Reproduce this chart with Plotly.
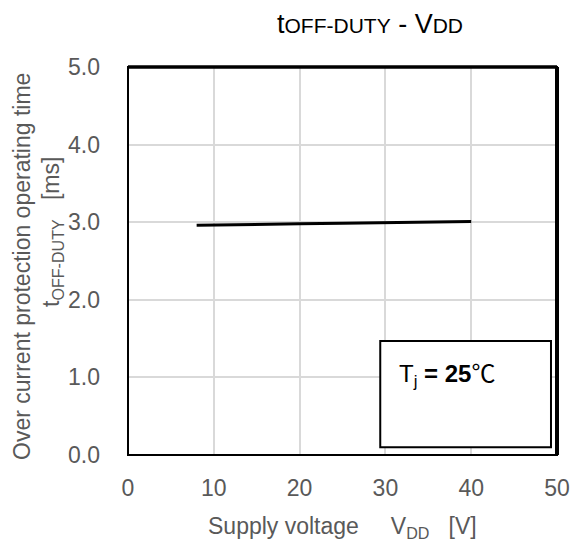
import plotly.graph_objects as go

# data
vdd = [8, 10, 15, 20, 25, 30, 35, 40]
t_off = [2.96, 2.965, 2.972, 2.98, 2.988, 2.995, 3.002, 3.01]
x_ticks = [0, 10, 20, 30, 40, 50]
y_ticks = [0, 1, 2, 3, 4, 5]
y_ticklabels = ["0.0", "1.0", "2.0", "3.0", "4.0", "5.0"]

FONT = "Liberation Sans, Arial, sans-serif"
GRAY = "#595959"

fig = go.Figure()
fig.add_trace(go.Scatter(x=vdd, y=t_off, mode="lines",
                         line=dict(color="black", width=3), showlegend=False,
                         hoverinfo="x+y"))

fig.update_layout(
    width=574, height=544,
    margin=dict(l=128, r=17, t=67, b=89),
    paper_bgcolor="white", plot_bgcolor="white",
    font=dict(family=FONT, size=23, color=GRAY),
    showlegend=False,
    xaxis=dict(range=[0, 50], tickvals=x_ticks, ticktext=[str(v) for v in x_ticks],
               showgrid=True, gridcolor="#d9d9d9", gridwidth=1.5,
               zeroline=False, showline=False, ticks="", automargin=False,
               ticklabelstandoff=17,
               tickfont=dict(family=FONT, size=23, color=GRAY)),
    yaxis=dict(range=[0, 5], tickvals=y_ticks, ticktext=y_ticklabels,
               showgrid=True, gridcolor="#d9d9d9", gridwidth=1.5,
               zeroline=False, showline=False, ticks="", automargin=False,
               ticklabelstandoff=27,
               tickfont=dict(family=FONT, size=23, color=GRAY)),
)

# plot frame
fig.add_shape(type="rect", xref="paper", yref="paper", x0=0, x1=1, y0=0, y1=1,
              line=dict(color="black", width=2), layer="above")
fig.add_shape(type="line", xref="paper", yref="paper", x0=0, x1=1, y0=1, y1=1,
              line=dict(color="black", width=3.5), layer="above")
fig.add_shape(type="line", xref="paper", yref="paper", x0=1, x1=1, y0=0, y1=1,
              line=dict(color="black", width=4), layer="above")

# condition box
fig.add_shape(type="rect", xref="x", yref="y", x0=29.4, x1=49.3, y0=0.10, y1=1.47,
              line=dict(color="black", width=2), fillcolor="white", layer="above")
fig.add_annotation(x=31.3, y=1.06, xref="x", yref="y", xanchor="left", yanchor="middle",
                   text="T<sub>j</sub> <b>= 25</b><span style='font-family:Noto Sans CJK JP'>℃</span>",
                   showarrow=False,
                   font=dict(family=FONT, size=24, color="black"))

# title
fig.add_annotation(x=0.564, y=1, xref="paper", yref="paper", yshift=43,
                   xanchor="center", yanchor="middle", showarrow=False,
                   text="t<span style='font-size:21px'>OFF-DUTY</span> - V<span style='font-size:21px'>DD</span>",
                   font=dict(family=FONT, size=27, color="black"))

# x-axis title
fig.add_annotation(x=0.5, y=0, xref="paper", yref="paper", yshift=-72,
                   xanchor="center", yanchor="middle", showarrow=False,
                   text="Supply voltage     V<sub>DD</sub>   [V]",
                   font=dict(family=FONT, size=23, color=GRAY))

# y-axis titles
fig.add_annotation(x=0, y=0.5, xref="paper", yref="paper", xshift=-106, yshift=-6,
                   xanchor="center", yanchor="middle", showarrow=False, textangle=-90,
                   text="Over current protection operating time",
                   font=dict(family=FONT, size=23, color=GRAY))
fig.add_annotation(x=0, y=0.5, xref="paper", yref="paper", xshift=-76, yshift=29,
                   xanchor="center", yanchor="middle", showarrow=False, textangle=-90,
                   text="t<sub>OFF-DUTY</sub>   [ms]",
                   font=dict(family=FONT, size=23, color=GRAY))

fig.write_html("out.html", config={"displayModeBar": False},
               post_script="document.body.style.margin='0';document.body.style.overflow='hidden';")
